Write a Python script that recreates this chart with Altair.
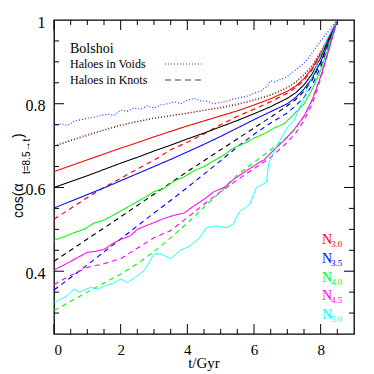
import altair as alt
import pandas as pd

# ---------------- data ----------------
T_S = [0, 0.5, 1, 1.5, 2, 2.5, 3, 3.5, 4, 4.5, 5, 5.5, 6, 6.5, 7, 7.25, 7.5, 7.75, 8, 8.25, 8.5]

RED_SOLID = [0.638, 0.652, 0.666, 0.680, 0.694, 0.707, 0.721, 0.734, 0.747, 0.759, 0.771, 0.783, 0.797, 0.812, 0.830, 0.842, 0.860, 0.885, 0.920, 0.960, 1.0]
BLACK_SOLID = [0.600, 0.614, 0.628, 0.643, 0.658, 0.672, 0.687, 0.701, 0.716, 0.730, 0.745, 0.760, 0.776, 0.793, 0.813, 0.826, 0.845, 0.872, 0.910, 0.955, 1.0]
BLUE_SOLID = [0.551, 0.567, 0.583, 0.599, 0.616, 0.633, 0.650, 0.667, 0.685, 0.703, 0.722, 0.742, 0.762, 0.781, 0.800, 0.815, 0.835, 0.862, 0.900, 0.950, 1.0]
RED_DOTTED = [0.700, 0.713, 0.727, 0.738, 0.750, 0.758, 0.766, 0.772, 0.778, 0.785, 0.792, 0.800, 0.810, 0.822, 0.840, 0.853, 0.870, 0.893, 0.925, 0.962, 1.0]
BLACK_DOTTED = [0.698, 0.712, 0.724, 0.737, 0.748, 0.757, 0.765, 0.771, 0.777, 0.784, 0.790, 0.798, 0.808, 0.820, 0.838, 0.851, 0.868, 0.891, 0.923, 0.960, 1.0]
RED_DASHED = [0.524, 0.550, 0.576, 0.600, 0.622, 0.644, 0.665, 0.690, 0.708, 0.728, 0.750, 0.770, 0.787, 0.805, 0.825, 0.838, 0.856, 0.882, 0.917, 0.958, 1.0]
BLACK_DASHED = [0.424, 0.450, 0.477, 0.503, 0.530, 0.557, 0.584, 0.611, 0.638, 0.664, 0.690, 0.716, 0.742, 0.768, 0.795, 0.810, 0.830, 0.857, 0.897, 0.947, 1.0]
BLUE_DASHED = [0.355, 0.385, 0.415, 0.446, 0.477, 0.508, 0.539, 0.569, 0.600, 0.632, 0.664, 0.697, 0.727, 0.754, 0.778, 0.795, 0.815, 0.845, 0.888, 0.940, 1.0]
MAGENTA_DASHED = [0.368, 0.390, 0.409, 0.418, 0.430, 0.455, 0.480, 0.497, 0.528, 0.560, 0.590, 0.618, 0.645, 0.672, 0.708, 0.730, 0.760, 0.800, 0.860, 0.930, 1.0]
GREEN_DASHED = [0.306, 0.328, 0.350, 0.372, 0.393, 0.418, 0.447, 0.480, 0.515, 0.553, 0.590, 0.630, 0.660, 0.690, 0.720, 0.740, 0.770, 0.810, 0.865, 0.932, 1.0]

GREEN_T = [0, 0.3, 0.6, 0.9, 1.2, 1.5, 1.8, 2.1, 2.4, 2.7, 3.0, 3.3, 3.6, 3.9, 4.2, 4.5, 4.8, 5.1, 5.4, 5.7,
           6.0, 6.3, 6.6, 6.9, 7.2, 7.5, 7.75, 8.0, 8.25, 8.5]
GREEN_SOLID = [0.474, 0.482, 0.492, 0.500, 0.515, 0.522, 0.535, 0.548, 0.562, 0.575, 0.590, 0.598, 0.615, 0.625, 0.640, 0.650, 0.664, 0.678, 0.695, 0.705,
               0.718, 0.728, 0.742, 0.752, 0.775, 0.800, 0.835, 0.880, 0.940, 1.0]

MAGENTA_T = [0, 0.3, 0.6, 1.0, 1.2, 1.5, 1.8, 2.0, 2.3, 2.5, 2.8, 3.0, 3.3, 3.5, 3.9, 4.2, 4.5, 4.8, 5.1, 5.4,
             5.7, 6.0, 6.3, 6.6, 6.9, 7.2, 7.5, 7.75, 8.0, 8.25, 8.5]
MAGENTA_SOLID = [0.403, 0.415, 0.428, 0.445, 0.447, 0.452, 0.468, 0.476, 0.485, 0.500, 0.510, 0.516, 0.526, 0.531, 0.539, 0.556, 0.572, 0.590, 0.600, 0.620,
                 0.636, 0.652, 0.666, 0.690, 0.712, 0.738, 0.770, 0.810, 0.865, 0.930, 1.0]

CYAN_T = [0, 0.25, 0.4, 0.6, 0.75, 0.9, 1.1, 1.3, 1.5, 1.75, 2.0, 2.2, 2.5, 2.7, 2.85, 3.0, 3.2, 3.5, 3.8, 4.07,
          4.37, 4.57, 4.87, 5.17, 5.37, 5.57, 5.87, 6.07, 6.37, 6.45, 6.72, 7.02, 7.2, 7.42, 7.65, 7.92, 8.2, 8.5]
CYAN_SOLID = [0.326, 0.335, 0.342, 0.358, 0.350, 0.354, 0.362, 0.357, 0.364, 0.370, 0.381, 0.373, 0.389, 0.401, 0.420, 0.441, 0.441, 0.430, 0.450, 0.460,
              0.480, 0.504, 0.508, 0.504, 0.512, 0.543, 0.559, 0.600, 0.612, 0.660, 0.705, 0.745, 0.760, 0.800, 0.845, 0.900, 0.955, 1.0]

BLUE_DOT_T = [0, 0.2, 0.4, 0.6, 0.8, 1.0, 1.2, 1.4, 1.6, 1.8, 2.0, 2.2, 2.4, 2.6, 2.8, 3.0, 3.2, 3.4, 3.6, 3.8,
              4.0, 4.2, 4.4, 4.6, 4.8, 5.0, 5.2, 5.4, 5.6, 5.8, 6.0, 6.2, 6.4, 6.5, 6.6, 6.8, 7.0, 7.2, 7.4, 7.6,
              7.8, 8.0, 8.25, 8.5]
BLUE_DOTTED = [0.746, 0.752, 0.748, 0.758, 0.762, 0.765, 0.768, 0.772, 0.775, 0.772, 0.785, 0.782, 0.790, 0.787, 0.795, 0.790, 0.797, 0.800, 0.805, 0.800,
               0.808, 0.813, 0.807, 0.806, 0.800, 0.803, 0.806, 0.812, 0.815, 0.818, 0.825, 0.830, 0.842, 0.855, 0.852, 0.858, 0.865, 0.878, 0.890, 0.905,
               0.928, 0.950, 0.975, 1.0]

X_MAJOR = [0, 2, 4, 6, 8]
X_MINOR = [0.5, 1, 1.5, 2.5, 3, 3.5, 4.5, 5, 5.5, 6.5, 7, 7.5, 8.5]
Y_MAJOR = [0.4, 0.6, 0.8]
Y_MINOR = [0.3, 0.35, 0.45, 0.5, 0.55, 0.65, 0.7, 0.75, 0.85, 0.9, 0.95]
Y_LABELS = [0.4, 0.6, 0.8, 1.0]

N_LABELS = ["N", "N", "N", "N", "N"]
N_SUBS = ["3.0", "3.5", "4.0", "4.5", "5.0"]
N_COLORS = ["#ff0000", "#0000ff", "#00ff00", "#ff00ff", "#00ffff"]

# ---------------- build table ----------------
SERIES = [
    ("red_dotted", T_S, RED_DOTTED, "#ff5555", [1, 2], 1.2),
    ("black_dotted", T_S, BLACK_DOTTED, "#333333", [1, 2], 1.0),
    ("blue_dotted", BLUE_DOT_T, BLUE_DOTTED, "#3333ff", [1, 2], 1.2),
    ("red_dashed", T_S, RED_DASHED, "#ff0000", [5, 4], 1.2),
    ("black_dashed", T_S, BLACK_DASHED, "#000000", [5, 4], 1.2),
    ("blue_dashed", T_S, BLUE_DASHED, "#0000ff", [5, 4], 1.2),
    ("magenta_dashed", T_S, MAGENTA_DASHED, "#ff00ff", [5, 4], 1.2),
    ("green_dashed", T_S, GREEN_DASHED, "#00ff00", [5, 4], 1.2),
    ("red_solid", T_S, RED_SOLID, "#ff0000", [1, 0], 1.3),
    ("black_solid", T_S, BLACK_SOLID, "#000000", [1, 0], 1.3),
    ("blue_solid", T_S, BLUE_SOLID, "#0000ff", [1, 0], 1.3),
    ("green_solid", GREEN_T, GREEN_SOLID, "#00ff00", [1, 0], 1.3),
    ("magenta_solid", MAGENTA_T, MAGENTA_SOLID, "#ff00ff", [1, 0], 1.3),
    ("cyan_solid", CYAN_T, CYAN_SOLID, "#00ffff", [1, 0], 1.8),
]

rows = []
for order, (name, ts, vs, _c, _d, _w) in enumerate(SERIES):
    for t, v in zip(ts, vs):
        rows.append({"series": name, "t": t, "v": v, "o": order})
df = pd.DataFrame(rows)

names = [s[0] for s in SERIES]
colors = [s[3] for s in SERIES]
dashes = [s[4] for s in SERIES]
widths = [s[5] for s in SERIES]

W, H = 300, 314
XS = alt.Scale(domain=[0, 9], nice=False, zero=False)
YS = alt.Scale(domain=[0.25, 1.0], nice=False, zero=False)
XA = alt.Axis(values=X_MAJOR, ticks=False, domain=False, grid=False, title=None,
              labelFont="Liberation Serif", labelFontSize=15, labelPadding=8,
              labelColor="black", format="d")
YA = alt.Axis(values=Y_LABELS, ticks=False, domain=False, grid=False, title=None,
              labelFont="Liberation Serif", labelFontSize=16, labelPadding=9,
              labelColor="black", labelOffset=2,
              labelExpr="datum.value == 1 ? '1' : format(datum.value, '.1f')")


def X(field="t"):
    return alt.X(f"{field}:Q", scale=XS, axis=XA)


def Y(field="v"):
    return alt.Y(f"{field}:Q", scale=YS, axis=YA)


lines = alt.Chart(df).mark_line(interpolate="linear").encode(
    x=X(), y=Y(),
    color=alt.Color("series:N", scale=alt.Scale(domain=names, range=colors), legend=None),
    strokeDash=alt.StrokeDash("series:N", scale=alt.Scale(domain=names, range=dashes), legend=None),
    strokeWidth=alt.StrokeWidth("series:N", scale=alt.Scale(domain=names, range=widths), legend=None),
    order="o:Q",
)

# ---------------- inward ticks ----------------
def xticks(vals, length):
    d = pd.DataFrame({"t": vals})
    bottom = alt.Chart(d).mark_rule(color="black", strokeWidth=1).encode(
        x=X(), y=alt.value(H), y2=alt.value(H - length))
    top = alt.Chart(d).mark_rule(color="black", strokeWidth=1).encode(
        x=X(), y=alt.value(0), y2=alt.value(length))
    return [bottom, top]


def yticks(vals, length):
    d = pd.DataFrame({"v": vals})
    left = alt.Chart(d).mark_rule(color="black", strokeWidth=1).encode(
        y=Y(), x=alt.value(0), x2=alt.value(length))
    right = alt.Chart(d).mark_rule(color="black", strokeWidth=1).encode(
        y=Y(), x=alt.value(W), x2=alt.value(W - length))
    return [left, right]


ticks = xticks(X_MAJOR, 10) + xticks(X_MINOR, 5) + yticks(Y_MAJOR, 10) + yticks(Y_MINOR, 5)

one = alt.Data(values=[{"a": 1}])


def txt(s, x, y, size, font="Liberation Serif", color="black", angle=0, align="left", baseline="alphabetic"):
    kw = dict(text=s, fontSize=size, font=font, color=color, align=align, baseline=baseline)
    if angle:
        kw["angle"] = angle
    return alt.Chart(one).mark_text(**kw).encode(x=alt.value(x), y=alt.value(y))


def seg(x1, x2, y, dash):
    return alt.Chart(one).mark_rule(color="#444444", strokeWidth=1, strokeDash=dash).encode(
        x=alt.value(x1), x2=alt.value(x2), y=alt.value(y))


annots = [
    txt("Bolshoi", 16, 33, 14),
    txt("Haloes in Voids", 16, 48, 12),
    txt("Haloes in Knots", 16, 64, 12),
    seg(111, 149, 44, [1, 2]),
    seg(111, 151, 60, [6, 4]),
    # x title
    txt("t/Gyr", 150, 348, 15, align="center"),
    # y title pieces (rotated)
    txt("cos(α", -31, 198, 14, font="Liberation Sans", angle=270),
    txt("t=8.5→t", -24, 154, 10, font="Liberation Sans", angle=270),
    txt(")", -31, 118, 14, font="Liberation Sans", angle=270),
]

for i, (n, sub, col) in enumerate(zip(N_LABELS, N_SUBS, N_COLORS)):
    yb = 224 + i * 18.8
    annots.append(txt(n, 268, yb, 14, color=col))
    annots.append(txt(sub, 277, yb + 3, 9, color=col))

chart = alt.layer(lines, *ticks, *annots).properties(
    width=W, height=H,
    padding={"left": 46, "top": 12, "right": 12, "bottom": 40},
    autosize=alt.AutoSizeParams(type="none"),
    background="white",
).configure_view(stroke="black", strokeWidth=1.3)

chart.save("out.html", embed_options={"renderer": "svg", "actions": False})
